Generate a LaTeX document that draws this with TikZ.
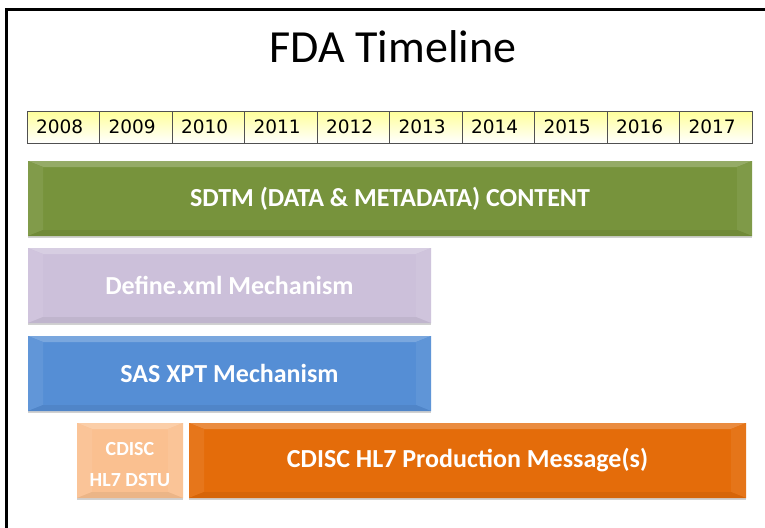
\documentclass[tikz,border=0pt]{standalone}
\usepackage{fontspec}
\setmainfont{Carlito}
\newfontfamily\yearfont{DejaVu Sans}
\usetikzlibrary{shadows}
\definecolor{sdtmgreen}{HTML}{77933C}
\definecolor{defpurple}{HTML}{CCC0DA}
\definecolor{sasblue}{HTML}{558ED5}
\definecolor{dstupeach}{HTML}{FAC090}
\definecolor{hlorange}{HTML}{E46C0A}
\definecolor{cellyellow}{HTML}{FFFF99}
\definecolor{cellline}{HTML}{505050}
\newcommand{\bvx}{15pt}
\newcommand{\bvy}{6pt}
\tikzset{
  yearcell/.style={draw=cellline, line width=0.9pt, top color=cellyellow, bottom color=white,
    minimum width=72.5pt, minimum height=32pt, inner xsep=9pt, inner ysep=0pt,
    text width=54.5pt, align=left, font=\yearfont\fontsize{18.5}{20}\selectfont},
  bar/.style={fill=#1, draw=none, inner sep=0pt, minimum height=75pt, text=white, align=center,
    font=\bfseries\fontsize{26}{31}\selectfont,
    drop shadow={shadow xshift=0pt, shadow yshift=-2pt, opacity=0.18, fill=black},
    path picture={
      \path (path picture bounding box.north west) coordinate (pnw)
            (path picture bounding box.north east) coordinate (pne)
            (path picture bounding box.south west) coordinate (psw)
            (path picture bounding box.south east) coordinate (pse);
      \fill[#1!78!white] (pnw) -- (pne) -- ([shift={(-\bvx,-\bvy)}]pne) -- ([shift={(\bvx,-\bvy)}]pnw) -- cycle;
      \fill[#1!93!white] (pnw) -- ([shift={(\bvx,-\bvy)}]pnw) -- ([shift={(\bvx,\bvy)}]psw) -- (psw) -- cycle;
      \fill[#1!94!white] (pne) -- ([shift={(-\bvx,-\bvy)}]pne) -- ([shift={(-\bvx,\bvy)}]pse) -- (pse) -- cycle;
      \fill[#1!94!black] (psw) -- ([shift={(\bvx,\bvy)}]psw) -- ([shift={(-\bvx,\bvy)}]pse) -- (pse) -- cycle;
    }}
}
\begin{document}
\begin{tikzpicture}[x=1pt, y=-1pt]
  \useasboundingbox[fill=white] (0,0) rectangle (765,527);
  % frame (left and top edges visible)
  \draw[line width=3pt, black] (6.5,530) -- (6.5,9.5) -- (768,9.5);
  % title
  \node[anchor=base, font=\fontsize{46}{50}\selectfont] (title) at (393,63) {FDA Timeline};
  % years
  \foreach \yr [count=\i from 0] in {2008,2009,2010,2011,2012,2013,2014,2015,2016,2017}{
    \node[yearcell] (y\yr) at ({27+72.5*(\i+0.5)},127) {\yr};
  }
  % bars
  \node[bar=sdtmgreen, minimum width=724pt] (sdtm) at (390,198.5) {\raisebox{-2pt}{SDTM (DATA \& METADATA) CONTENT}};
  \node[bar=defpurple, minimum width=403pt] (define) at (229.5,285.5) {\raisebox{-2pt}{Define.xml Mechanism}};
  \node[bar=sasblue, minimum width=403pt] (sas) at (229.5,373.5) {\raisebox{-2pt}{SAS XPT Mechanism}};
  \node[bar=dstupeach, minimum width=106pt,
        label={[text=white, align=center, font=\bfseries\fontsize{20}{31}\selectfont, yshift=-4pt]center:{CDISC\\HL7 DSTU}}]
        (dstu) at (130,460.5) {};
  \node[bar=hlorange, minimum width=557pt] (prod) at (467.5,460.5) {\raisebox{-2pt}{CDISC HL7 Production Message(s)}};
\end{tikzpicture}
\end{document}
